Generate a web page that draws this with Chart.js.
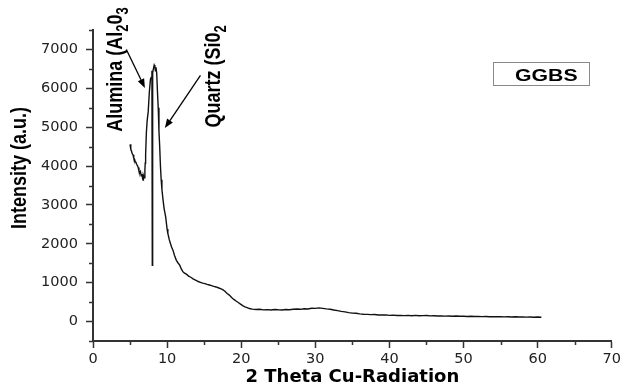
<!DOCTYPE html>
<html>
<head>
<meta charset="utf-8">
<script src="https://cdn.jsdelivr.net/npm/chart.js@4.4.1/dist/chart.umd.min.js"></script>
<style>
  html, body { margin: 0; padding: 0; background: #fff; }
  #wrap { width: 624px; height: 388px; }
</style>
</head>
<body>
<div id="wrap"><canvas id="xrdChart"></canvas></div>
<script>
// GGBS diffraction scan: 2-theta (deg) against counts
const twoTheta = [
  5.0, 5.1, 5.2, 5.3, 5.4, 5.5, 5.6, 5.7, 5.8, 5.9, 6.0, 6.1, 6.2, 6.3, 6.4, 6.5, 6.6, 6.7, 6.75, 6.8, 6.9, 7.0,
  7.05, 7.1, 7.2, 7.3, 7.45, 7.6, 7.75, 7.85, 7.95, 8.0, 8.05, 8.15, 8.26, 8.35, 8.42, 8.5, 8.6, 8.7, 8.8, 8.9,
  9.0, 9.1, 9.2, 9.3, 9.45, 9.6, 9.8, 10.0, 10.1, 10.3, 10.45, 10.6, 10.8, 11.0, 11.25, 11.5, 11.7, 11.9, 12.1,
  12.3, 12.6, 12.9, 13.2, 13.5, 13.9, 14.2, 14.5, 14.8, 15.1, 15.4, 15.7, 16.0, 16.3, 16.6, 16.9, 17.2, 17.5,
  17.8, 18.1, 18.4, 18.7, 19.0, 19.3, 19.6, 19.9, 20.2, 20.5, 20.8, 21.1, 21.5,
  22.0, 22.5, 23.0, 23.5, 24.0, 24.5, 25.0, 25.5, 26.0, 26.5, 27.0, 27.5, 28.0, 28.5, 29.0, 29.5, 30.0, 30.5,
  31.0, 31.5, 32.0, 32.5, 33.0, 33.5, 34.0, 34.5, 35.0, 35.5, 36.0, 36.5, 37.0, 37.5, 38.0, 38.5, 39.0, 39.5,
  40.0, 40.5, 41.0, 41.5, 42.0, 42.5, 43.0, 43.5, 44.0, 44.5, 45.0, 45.5, 46.0, 46.5, 47.0, 47.5, 48.0, 48.5,
  49.0, 49.5, 50.0, 50.5, 51.0, 51.5, 52.0, 52.5, 53.0, 53.5, 54.0, 54.5, 55.0, 55.5, 56.0, 56.5, 57.0, 57.5,
  58.0, 58.5, 59.0, 59.5, 60.0, 60.5
];
const intensity = [
  4560, 4430, 4380, 4310, 4290, 4200, 4180, 4110, 4090, 4040, 4010, 3960, 3870, 3830, 3860, 3750, 3790, 3680, 3640, 3760, 3700, 3900,
  4080, 4300, 4850, 5150, 5400, 5900, 6230, 6280, 6450, 1450, 6400, 6500, 6600, 6560, 6450, 6540, 6380, 5900, 5500, 4900,
  4500, 4000, 3650, 3400, 3130, 2900, 2700, 2380, 2265, 2100, 2010, 1920, 1830, 1700, 1575, 1500, 1450, 1360, 1290,
  1250, 1220, 1170, 1140, 1100, 1060, 1030, 1010, 990, 975, 955, 940, 925, 905, 890, 870, 845, 820,
  780, 720, 680, 620, 570, 530, 490, 450, 410, 380, 360, 335, 320,
  312, 318, 300, 306, 296, 310, 302, 298, 312, 305, 318, 322, 315, 330, 325, 342, 338, 352,
  340, 326, 318, 296, 282, 262, 248, 230, 218, 212, 198, 190, 186, 178, 182, 170, 168, 172,
  160, 165, 156, 160, 152, 158, 150, 160, 148, 152, 155, 146, 150, 142, 146, 140, 144, 138,
  142, 136, 138, 132, 136, 130, 134, 128, 130, 124, 128, 122, 126, 120, 124, 118, 122, 116,
  120, 114, 118, 112, 116, 110
];

const xMajorTicks = [0, 10, 20, 30, 40, 50, 60, 70];
const xMinorTicks = [5, 15, 25, 35, 45, 55, 65];
const yMajorTicks = [0, 1000, 2000, 3000, 4000, 5000, 6000, 7000];
const yMinorTicks = [-500, 500, 1500, 2500, 3500, 4500, 5500, 6500, 7500];

const seriesName = 'GGBS';

// peak call-outs: text runs upward from `at`, arrow drawn from -> to (data units)
const callouts = [
  { parts: [['Alumina (Al', 0], ['2', 1], ['0', 0], ['3', 1]], at: [3.9, 4880], from: [4.5, 7000], to: [7.0, 6010] },
  { parts: [['Quartz (Si0', 0], ['2', 1]], at: [17.1, 4990], from: [14.5, 6330], to: [9.7, 4980] }
];

const STRETCH = 1.25; // the labels in this figure are set wide

function stretchedText(c, text, x, y, font, rotate) {
  c.save();
  c.translate(x, y);
  c.scale(STRETCH, 1);
  if (rotate) c.rotate(-Math.PI / 2);
  c.font = font;
  c.fillText(text, 0, 0);
  c.restore();
}

const decor = {
  id: 'decor',
  afterDraw(chart) {
    const c = chart.ctx;
    const xs = chart.scales.x, ys = chart.scales.y;
    const area = chart.chartArea;

    // minor ticks
    c.save();
    c.strokeStyle = '#333';
    c.lineWidth = 1.5;
    c.beginPath();
    xMinorTicks.forEach(v => {
      const px = Math.round(xs.getPixelForValue(v)) + 0.5;
      c.moveTo(px, area.bottom);
      c.lineTo(px, area.bottom + 4);
    });
    yMinorTicks.forEach(v => {
      const py = Math.round(ys.getPixelForValue(v)) + 0.5;
      c.moveTo(area.left, py);
      c.lineTo(area.left - 4, py);
    });
    c.stroke();
    c.restore();

    // y axis title
    c.save();
    c.fillStyle = '#000';
    c.textAlign = 'center';
    c.textBaseline = 'middle';
    stretchedText(c, 'Intensity (a.u.)', 20, 168, 'bold 18px "Liberation Sans"', true);
    c.restore();

    // call-outs
    c.save();
    c.fillStyle = '#000';
    c.strokeStyle = '#000';
    c.lineWidth = 1.3;
    c.textBaseline = 'alphabetic';
    callouts.forEach(co => {
      const bx = xs.getPixelForValue(co.at[0]);
      let by = ys.getPixelForValue(co.at[1]);
      co.parts.forEach(([txt, sub]) => {
        const font = sub ? 'bold 13px "Liberation Sans"' : 'bold 18px "Liberation Sans"';
        c.font = font;
        const w = c.measureText(txt).width;
        stretchedText(c, txt, bx + (sub ? 5 * STRETCH : 0), by, font, true);
        by -= w;
      });

      const x1 = xs.getPixelForValue(co.from[0]), y1 = ys.getPixelForValue(co.from[1]);
      const x2 = xs.getPixelForValue(co.to[0]), y2 = ys.getPixelForValue(co.to[1]);
      const ang = Math.atan2(y2 - y1, x2 - x1);
      const head = 9, half = 3.5;
      c.beginPath();
      c.moveTo(x1, y1);
      c.lineTo(x2 - Math.cos(ang) * head, y2 - Math.sin(ang) * head);
      c.stroke();
      c.beginPath();
      c.moveTo(x2, y2);
      c.lineTo(x2 - Math.cos(ang) * head - Math.sin(ang) * half, y2 - Math.sin(ang) * head + Math.cos(ang) * half);
      c.lineTo(x2 - Math.cos(ang) * head + Math.sin(ang) * half, y2 - Math.sin(ang) * head - Math.cos(ang) * half);
      c.closePath();
      c.fill();
    });
    c.restore();

    // legend box
    c.save();
    c.strokeStyle = '#888';
    c.lineWidth = 1;
    c.strokeRect(493.5, 62.5, 96, 23);
    c.fillStyle = '#000';
    c.textAlign = 'left';
    c.textBaseline = 'alphabetic';
    stretchedText(c, seriesName, 515, 81, 'bold 17px "Liberation Sans"', false);
    c.restore();
  }
};

const ctx = document.getElementById('xrdChart').getContext('2d');
const xrdChart = new Chart(ctx, {
  type: 'line',
  data: {
    datasets: [{
      label: seriesName,
      data: twoTheta.map((x, i) => ({ x: x, y: intensity[i] })),
      borderColor: '#111',
      borderWidth: 1.4,
      pointRadius: 0,
      tension: 0,
      fill: false
    }]
  },
  options: {
    responsive: true,
    maintainAspectRatio: false,
    animation: false,
    layout: { padding: { left: 0, right: 10, top: 30, bottom: 0 } },
    plugins: { legend: { display: false }, tooltip: { enabled: false } },
    scales: {
      x: {
        type: 'linear',
        min: 0,
        max: 70,
        afterBuildTicks: s => { s.ticks = xMajorTicks.map(v => ({ value: v })); },
        afterFit: s => { s.height = 47; },
        ticks: { color: '#222', font: { family: 'DejaVu Sans', size: 14.5 }, padding: 3, maxRotation: 0, callback: v => String(v) },
        grid: { drawOnChartArea: false, tickLength: 7, tickColor: '#333', tickWidth: 1.5 },
        border: { color: '#333', width: 2 },
        title: {
          display: true,
          text: '2 Theta Cu-Radiation',
          color: '#000',
          font: { family: 'DejaVu Sans', size: 18, weight: 'bold' },
          padding: 0
        }
      },
      y: {
        min: -500,
        max: 7500,
        afterBuildTicks: s => { s.ticks = yMajorTicks.map(v => ({ value: v })); },
        afterFit: s => { s.width = 93; },
        ticks: { color: '#222', font: { family: 'DejaVu Sans', size: 14.5 }, padding: 8, callback: v => String(v) },
        grid: { drawOnChartArea: false, tickLength: 7, tickColor: '#333', tickWidth: 1.5 },
        border: { color: '#333', width: 2 }
      }
    }
  },
  plugins: [decor]
});
</script>
</body>
</html>
